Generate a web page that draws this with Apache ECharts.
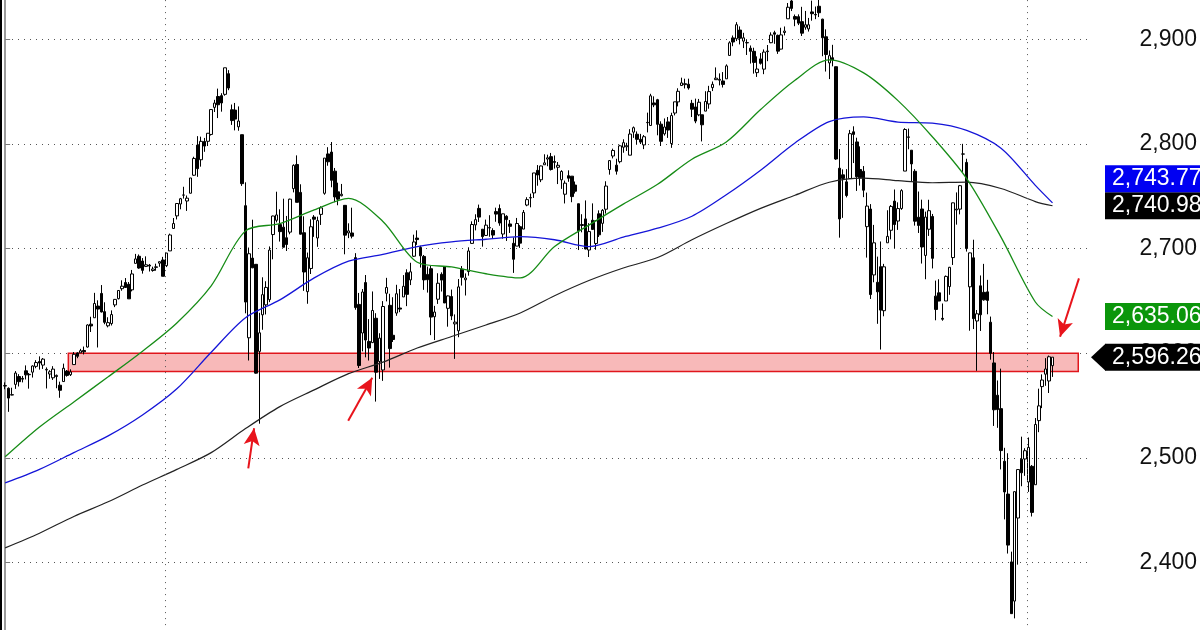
<!DOCTYPE html>
<html><head><meta charset="utf-8">
<script src="https://cdn.jsdelivr.net/npm/echarts@6/dist/echarts.min.js"></script>
<style>html,body{margin:0;padding:0;background:#fff}#c{width:1200px;height:630px}</style>
</head><body><div id="c"></div>
<script>
// Daily bars, one small array per month: [day, open, high, low, close]
const oct2017 = [[24,2568.66,2572.18,2565.58,2569.13],[25,2566.52,2567.40,2544.00,2557.15],[26,2560.08,2567.07,2559.80,2560.40],[27,2570.26,2582.98,2565.94,2581.07],[30,2577.75,2580.03,2568.25,2572.83],[31,2575.99,2578.29,2572.15,2575.26]];
const nov2017 = [[1,2583.21,2588.40,2574.92,2579.36],[2,2579.46,2581.11,2566.17,2579.85],[3,2581.93,2588.42,2576.77,2587.84],[6,2587.47,2593.38,2585.66,2591.13],[7,2592.11,2597.02,2584.35,2590.64],[8,2588.71,2595.47,2585.02,2594.38],[9,2584.00,2586.50,2566.33,2584.62],[10,2580.18,2583.81,2575.57,2582.30],[13,2576.53,2587.66,2574.48,2584.84],[14,2577.75,2579.66,2566.56,2578.87],[15,2569.45,2572.84,2557.45,2564.62],[16,2572.95,2590.09,2572.95,2585.64],[17,2582.94,2583.96,2577.62,2578.85],[20,2579.49,2584.64,2578.24,2582.14],[21,2589.17,2601.19,2589.17,2599.03],[22,2600.31,2600.94,2595.23,2597.08],[24,2600.42,2604.21,2600.42,2602.42],[27,2602.66,2606.41,2598.87,2601.42],[28,2605.94,2627.69,2605.44,2627.04],[29,2627.82,2634.89,2620.32,2626.07],[30,2633.93,2657.74,2633.93,2647.58]];
const dec2017 = [[1,2645.10,2650.62,2605.52,2642.22],[4,2657.19,2665.19,2639.03,2639.44],[5,2639.78,2648.72,2627.73,2629.57],[6,2626.24,2634.41,2624.75,2629.27],[7,2628.38,2640.99,2626.53,2636.98],[8,2646.21,2651.65,2644.10,2651.50],[11,2652.19,2660.33,2651.47,2659.99],[12,2661.73,2669.72,2659.78,2664.11],[13,2667.59,2671.88,2662.85,2662.85],[14,2665.87,2668.09,2652.01,2652.01],[15,2660.63,2679.63,2659.14,2675.81],[18,2685.92,2694.97,2685.92,2690.16],[19,2692.71,2694.44,2680.74,2681.47],[20,2688.18,2691.01,2676.11,2679.25],[21,2683.02,2692.64,2682.40,2684.57],[22,2684.22,2685.35,2678.13,2683.34],[26,2679.09,2682.74,2677.96,2680.50],[27,2682.10,2685.64,2678.91,2682.62],[28,2686.10,2687.66,2682.69,2687.54],[29,2689.15,2692.12,2673.61,2673.61]];
const jan2018 = [[2,2683.73,2695.89,2682.36,2695.81],[3,2697.85,2714.37,2697.77,2713.06],[4,2719.31,2729.29,2719.07,2723.99],[5,2731.33,2743.45,2727.92,2743.15],[8,2742.67,2748.51,2737.60,2747.71],[9,2751.15,2759.14,2747.86,2751.29],[10,2745.55,2750.80,2736.06,2748.23],[11,2752.97,2767.56,2752.78,2767.56],[12,2770.18,2787.85,2769.64,2786.24],[16,2798.96,2807.54,2768.64,2776.42],[17,2784.99,2807.04,2778.38,2802.56],[18,2802.40,2805.83,2792.56,2798.03],[19,2802.60,2810.33,2798.08,2810.30],[22,2809.16,2833.03,2808.12,2832.97],[23,2835.05,2842.24,2830.59,2839.13],[24,2845.42,2852.97,2824.81,2837.54],[25,2846.24,2848.56,2830.94,2839.25],[26,2847.48,2872.87,2846.18,2872.87],[29,2867.23,2870.62,2851.48,2853.53],[30,2832.74,2837.75,2818.27,2822.43],[31,2832.41,2839.26,2813.04,2823.81]];
const feb2018 = [[1,2816.45,2835.96,2812.70,2821.98],[2,2808.92,2808.92,2759.97,2762.13],[5,2741.06,2763.39,2638.17,2648.94],[6,2614.78,2701.04,2593.07,2695.14],[7,2690.95,2727.67,2681.33,2681.66],[8,2685.01,2685.27,2580.56,2581.00],[9,2601.78,2638.67,2532.69,2619.55],[12,2636.75,2672.61,2622.45,2656.00],[13,2646.27,2668.84,2637.08,2662.94],[14,2651.21,2702.10,2648.87,2698.63],[15,2713.46,2731.51,2689.82,2731.20],[16,2727.14,2754.42,2725.11,2732.22],[20,2722.99,2737.60,2706.76,2716.26],[21,2720.53,2747.75,2701.29,2701.33],[22,2710.42,2731.26,2697.77,2703.96],[23,2715.80,2747.76,2713.74,2747.30],[26,2757.37,2780.64,2753.78,2779.60],[27,2780.45,2789.15,2744.22,2744.28],[28,2753.78,2761.52,2713.54,2713.83]];
const mar2018 = [[1,2715.22,2730.89,2659.65,2677.67],[2,2658.89,2696.25,2647.32,2691.25],[5,2681.06,2728.09,2675.75,2720.94],[6,2730.18,2732.08,2711.26,2728.12],[7,2710.18,2730.60,2701.74,2726.80],[8,2732.75,2740.45,2722.65,2738.97],[9,2752.91,2786.57,2751.54,2786.57],[12,2790.54,2796.98,2779.26,2783.02],[13,2792.31,2801.90,2758.68,2765.31],[14,2774.06,2777.11,2744.38,2749.48],[15,2754.27,2763.03,2741.47,2747.33],[16,2750.57,2761.85,2749.97,2752.01],[19,2741.38,2741.38,2694.59,2712.92],[20,2715.05,2724.22,2710.05,2716.94],[21,2714.99,2739.14,2709.79,2711.93],[22,2691.36,2695.68,2641.59,2643.69],[23,2646.71,2657.67,2585.89,2588.26],[26,2619.35,2661.36,2601.81,2658.55],[27,2667.57,2674.78,2596.12,2612.62],[28,2611.30,2632.65,2593.06,2605.00],[29,2610.18,2659.07,2609.72,2640.87]];
const apr2018 = [[2,2633.45,2638.30,2553.80,2581.88],[3,2592.17,2619.14,2575.49,2614.45],[4,2584.04,2649.86,2573.61,2644.69],[5,2657.36,2672.08,2649.58,2662.84],[6,2645.82,2656.88,2586.27,2604.47],[9,2617.18,2653.55,2610.79,2613.16],[10,2638.41,2665.45,2635.78,2656.87],[11,2643.23,2661.43,2639.25,2642.19],[12,2653.83,2674.72,2653.83,2663.99],[13,2676.90,2680.26,2645.05,2656.30],[16,2670.10,2686.49,2665.16,2677.84],[17,2692.74,2713.34,2692.05,2706.39],[18,2710.11,2717.49,2703.63,2708.64],[19,2701.16,2702.84,2681.90,2693.13],[20,2692.56,2693.94,2660.61,2670.14],[23,2675.40,2682.86,2657.99,2670.29],[24,2680.80,2683.55,2617.32,2634.56],[25,2634.92,2645.30,2612.67,2639.40],[26,2651.65,2676.48,2647.16,2666.94],[27,2675.47,2677.35,2659.01,2669.91],[30,2682.51,2682.87,2648.04,2648.05]];
const may2018 = [[1,2642.96,2655.27,2625.41,2654.80],[2,2654.24,2660.87,2631.70,2635.67],[3,2628.08,2637.14,2594.62,2629.73],[4,2621.45,2670.93,2615.32,2663.42],[7,2680.34,2683.35,2664.70,2672.63],[8,2670.26,2676.34,2655.20,2671.92],[9,2678.12,2701.27,2674.14,2697.79],[10,2705.02,2726.11,2704.54,2723.07],[11,2722.70,2732.86,2717.45,2727.72],[14,2738.47,2742.10,2725.47,2730.13],[15,2718.59,2718.59,2701.91,2711.45],[16,2712.62,2727.76,2712.17,2722.46],[17,2719.71,2731.96,2711.36,2720.13],[18,2717.35,2719.50,2709.18,2712.97],[21,2735.39,2739.19,2725.70,2733.01],[22,2738.34,2742.24,2721.88,2724.44],[23,2713.98,2733.33,2709.54,2733.29],[24,2730.94,2731.97,2707.38,2727.76],[25,2723.60,2727.36,2714.99,2721.33],[29,2705.11,2710.67,2676.81,2689.86],[30,2702.43,2729.34,2702.43,2724.01],[31,2720.98,2722.50,2700.68,2705.27]];
const jun2018 = [[1,2718.70,2736.93,2718.70,2734.62],[4,2741.67,2749.16,2740.54,2746.87],[5,2748.46,2752.61,2739.51,2748.80],[6,2753.25,2772.39,2748.46,2772.35],[7,2774.84,2779.90,2760.16,2770.37],[8,2765.84,2779.39,2763.59,2779.03],[11,2780.18,2790.21,2780.17,2782.00],[12,2785.60,2789.80,2778.78,2786.85],[13,2787.94,2791.47,2774.65,2775.63],[14,2783.21,2789.06,2776.52,2782.49],[15,2777.78,2782.81,2761.73,2779.66],[18,2765.79,2774.99,2757.12,2773.75],[19,2752.01,2765.05,2743.19,2762.59],[20,2769.73,2774.86,2763.91,2767.32],[21,2769.28,2769.28,2744.39,2749.76],[22,2760.79,2764.17,2752.68,2754.88],[25,2742.94,2742.94,2698.67,2717.07],[26,2722.12,2732.91,2715.60,2723.06],[27,2728.45,2746.09,2699.38,2699.63],[28,2698.69,2724.34,2691.99,2716.31],[29,2727.13,2743.26,2718.03,2718.37]];
const jul2018 = [[2,2704.95,2727.26,2698.95,2726.71],[3,2733.27,2736.58,2711.16,2713.22],[5,2724.19,2737.83,2716.02,2736.61],[6,2737.68,2764.41,2733.52,2759.82],[9,2775.62,2784.65,2770.73,2784.17],[10,2788.56,2795.58,2786.24,2793.84],[11,2779.82,2785.91,2770.77,2774.02],[12,2783.14,2799.22,2781.53,2798.29],[13,2796.93,2804.53,2791.69,2801.31],[16,2797.36,2801.19,2793.39,2798.43],[17,2789.34,2814.19,2789.24,2809.55],[18,2811.35,2816.76,2805.89,2815.62],[19,2809.37,2812.05,2799.77,2804.49],[20,2804.55,2809.70,2800.01,2801.83],[23,2799.17,2808.61,2795.14,2806.98],[24,2820.68,2829.99,2811.12,2820.40],[25,2817.73,2848.03,2817.73,2846.07],[26,2839.29,2845.57,2835.26,2837.44],[27,2842.35,2843.17,2808.34,2818.82],[30,2819.00,2821.74,2798.11,2802.60],[31,2809.73,2824.46,2808.06,2816.29]];
const aug2018 = [[1,2821.17,2825.83,2805.85,2813.36],[2,2800.48,2829.91,2796.34,2827.22],[3,2829.62,2840.38,2827.37,2840.35],[6,2840.29,2853.29,2835.98,2850.40],[7,2855.92,2863.43,2855.92,2858.45],[8,2856.79,2862.44,2853.09,2857.70],[9,2857.19,2862.48,2851.98,2853.58],[10,2838.90,2842.20,2825.81,2833.28],[13,2835.46,2843.40,2819.88,2821.93],[14,2827.88,2843.11,2826.58,2839.96],[15,2827.95,2827.95,2802.49,2818.37],[16,2831.44,2850.49,2831.44,2840.69],[17,2838.32,2855.63,2833.73,2850.13],[20,2853.93,2859.76,2850.62,2857.05],[21,2861.51,2873.23,2861.32,2862.96],[22,2860.99,2867.54,2856.05,2861.82],[23,2860.29,2868.78,2854.03,2856.98],[24,2862.35,2876.16,2862.35,2874.69],[27,2884.69,2898.25,2884.69,2896.74],[28,2901.45,2903.77,2893.50,2897.52],[29,2900.62,2916.50,2898.40,2914.04],[30,2908.94,2912.46,2895.22,2901.13],[31,2898.37,2906.32,2891.73,2901.52]];
const sep2018 = [[4,2896.96,2900.18,2885.13,2896.72],[5,2891.59,2894.21,2876.92,2888.60],[6,2888.64,2892.05,2867.29,2878.05],[7,2868.26,2883.81,2864.12,2871.68],[10,2881.39,2886.93,2875.94,2877.13],[11,2871.57,2890.43,2866.78,2887.89],[12,2888.29,2894.65,2879.20,2888.92],[13,2896.85,2906.76,2896.39,2904.18],[14,2906.38,2908.30,2895.77,2904.98],[17,2903.83,2904.65,2886.16,2888.80],[18,2890.74,2911.17,2890.43,2904.31],[19,2906.60,2912.36,2903.82,2907.95],[20,2919.73,2934.80,2919.73,2930.75],[21,2936.76,2940.91,2927.11,2929.67],[24,2921.83,2923.79,2912.63,2919.37],[25,2921.75,2923.95,2913.70,2915.56],[26,2916.98,2931.15,2903.28,2905.97],[27,2911.65,2927.22,2909.27,2914.00],[28,2910.03,2920.53,2907.50,2913.98]];
const oct2018 = [[1,2926.29,2937.06,2917.91,2924.59],[2,2923.80,2931.42,2919.37,2923.43],[3,2931.69,2939.86,2921.36,2925.51],[4,2919.35,2919.78,2883.92,2901.61],[5,2902.54,2909.64,2869.29,2885.57],[8,2877.53,2889.45,2862.08,2884.43],[9,2882.51,2894.83,2874.27,2880.34],[10,2873.90,2874.02,2784.86,2785.68],[11,2776.87,2795.14,2710.51,2728.37],[12,2770.54,2775.77,2729.44,2767.13],[15,2763.83,2775.99,2749.03,2750.79],[16,2767.05,2813.46,2766.91,2809.92],[17,2811.67,2816.94,2781.81,2809.21],[18,2802.00,2806.04,2755.18,2768.78],[19,2775.66,2797.77,2760.27,2767.78],[22,2773.94,2778.94,2749.22,2755.88],[23,2721.03,2753.59,2691.43,2740.69],[24,2737.87,2742.59,2651.89,2656.10],[25,2674.88,2722.70,2667.84,2705.57],[26,2667.86,2692.38,2628.16,2658.69],[29,2682.65,2706.85,2603.54,2641.25],[30,2640.68,2685.43,2635.34,2682.63],[31,2705.60,2736.69,2705.60,2711.74]];
const nov2018 = [[1,2717.58,2741.67,2708.85,2740.37],[2,2745.45,2756.55,2700.44,2723.06],[5,2726.37,2744.27,2717.94,2738.31],[6,2738.40,2756.82,2737.08,2755.45],[7,2774.13,2815.15,2774.13,2813.89],[8,2806.38,2814.75,2794.99,2806.83],[9,2794.10,2794.10,2764.24,2781.01],[12,2773.93,2775.99,2722.00,2726.22],[13,2730.05,2754.60,2714.98,2722.18],[14,2737.90,2746.80,2685.75,2701.58],[15,2693.52,2735.38,2670.75,2730.20],[16,2718.54,2746.75,2712.16,2736.27],[19,2730.74,2733.16,2681.09,2690.73],[20,2654.60,2669.44,2631.52,2641.89],[21,2657.74,2670.73,2649.82,2649.93],[23,2633.36,2647.55,2631.09,2632.56],[26,2649.97,2674.35,2649.97,2673.45],[27,2663.75,2682.53,2655.89,2682.17],[28,2691.45,2744.00,2684.38,2743.79],[29,2736.97,2753.75,2722.94,2737.80],[30,2737.76,2760.88,2732.76,2760.17]];
const dec2018 = [[3,2790.50,2800.18,2773.38,2790.37],[4,2782.43,2785.93,2697.18,2700.06],[6,2663.51,2696.15,2621.53,2695.95],[7,2691.26,2708.54,2623.14,2633.08],[10,2630.86,2641.34,2583.23,2637.72],[11,2664.44,2674.35,2621.30,2636.78],[12,2658.23,2685.44,2650.26,2651.07],[13,2658.70,2670.19,2637.27,2650.54],[14,2629.68,2635.07,2593.84,2599.95],[17,2590.75,2601.13,2530.54,2545.94],[18,2559.90,2573.99,2528.71,2546.16],[19,2547.05,2585.29,2488.96,2506.96],[20,2496.77,2509.63,2441.18,2467.42],[21,2465.38,2504.41,2408.55,2416.62],[24,2400.56,2410.34,2351.10,2351.10],[26,2363.12,2467.76,2346.58,2467.70],[27,2442.50,2489.10,2397.94,2488.83],[28,2498.77,2520.27,2472.89,2485.74],[31,2498.94,2509.24,2482.82,2506.85]];
const jan2019 = [[2,2476.96,2519.49,2467.47,2510.03],[3,2491.92,2493.14,2443.96,2447.89],[4,2474.33,2538.07,2474.33,2531.94],[7,2535.61,2566.16,2524.56,2549.69],[8,2568.11,2579.82,2547.56,2574.41],[9,2580.00,2595.32,2568.89,2584.96],[10,2573.51,2597.82,2562.02,2596.64],[11,2588.11,2596.27,2577.40,2596.26]];

const maBarIdx = [0,10,20,30,40,50,60,70,80,90,100,110,120,130,140,150,160,170,180,190,200,210,220,230,240,250,260,270,280,290,300,305];
const ma50  = [2501,2529.5,2553.5,2577.5,2602,2629,2664.5,2717,2724,2737,2748,2726,2687,2682.5,2676,2672,2702,2722.5,2742.5,2761.5,2785.5,2802,2833,2861,2880.5,2868,2841.5,2807,2767,2711,2649,2635.06];
const ma100 = [2476,2489,2505,2521,2541,2566,2601,2634,2651,2672,2688,2694.5,2702,2706.5,2709,2711.4,2708.5,2702,2711,2719.5,2731,2751.5,2775,2801,2821.5,2826,2821,2820,2813,2796,2760.5,2743.77];
const ma200 = [2414,2428,2444,2458,2474,2489,2505,2528,2549,2565,2580.5,2591.5,2605,2616,2627,2638.5,2655,2669.5,2681.5,2691.5,2708.5,2724,2738.5,2751,2763.5,2767.5,2765,2763,2763.5,2757.5,2745,2740.98];

// Y ticks
const yTicks = [2300, 3000, 100]; // min, max, step

// Annotation: support zone (bar positions, price bounds) and arrows [tail, tip] in [bar, price]
const zoneBars = [18.4, 312.5];
const zonePrices = [2600, 2582.5];
const arrows = [
  [[70.8, 2490.0], [72.5, 2528.3]],
  [[99.9, 2535.5], [106.9, 2576.6]],
  [[312.7, 2671.6], [307.2, 2615.8]]
];

const months = [['2017-10',oct2017],['2017-11',nov2017],['2017-12',dec2017],['2018-01',jan2018],['2018-02',feb2018],['2018-03',mar2018],['2018-04',apr2018],['2018-05',may2018],['2018-06',jun2018],['2018-07',jul2018],['2018-08',aug2018],['2018-09',sep2018],['2018-10',oct2018],['2018-11',nov2018],['2018-12',dec2018],['2019-01',jan2019]];
const dates = [], candles = [];
months.forEach(([ym, rows]) => rows.forEach(([d,o,h,l,c]) => {
  const ds = ym + '-' + String(d).padStart(2,'0');
  dates.push(ds); candles.push([ds, o, c, l, h]);
}));
const LEAD = 1, TRAIL = 11;
const categories = [...Array.from({length:LEAD},(_,i)=>'lead'+i), ...dates, ...Array.from({length:TRAIL},(_,i)=>'trail'+i)];
const yearStarts = dates.map((d,i)=> i>0 && d.slice(0,4)!==dates[i-1].slice(0,4) ? i : -1).filter(i=>i>=0);
const maPairs = arr => maBarIdx.map((b,i)=>[b, arr[i]]);

const FONT = "'Liberation Sans', Arial, sans-serif";
const chart = echarts.init(document.getElementById('c'), null, {renderer:'canvas'});
const fmt = v => v.toLocaleString('en-US');
const dot = {color:'#555', type:[1,5], width:1};

chart.setOption({
  animation:false,
  backgroundColor:'#fff',
  grid:{left:0, right:108, top:-65.2, bottom:-37.1, containLabel:false, outerBoundsMode:'none'},
  xAxis:[
    {type:'category', data:categories, boundaryGap:true, show:false},
    {type:'value', min:-LEAD-0.5, max:dates.length+TRAIL-0.5, show:false}
  ],
  yAxis:[
    {type:'value', position:'right', min:yTicks[0], max:yTicks[1], interval:yTicks[2],
     axisLine:{show:true, lineStyle:{color:'#7a7a7a', width:1.5}},
     axisTick:{show:true, length:5, lineStyle:{color:'#7a7a7a'}},
     axisLabel:{align:'right', margin:105, fontSize:23, color:'#111', fontFamily:FONT, formatter:fmt},
     splitLine:{show:true, lineStyle:dot}},
    {type:'value', position:'left', min:yTicks[0], max:yTicks[1],
     axisLine:{show:true, lineStyle:{color:'#000', width:3}},
     axisTick:{show:false}, axisLabel:{show:false}, splitLine:{show:false}}
  ],
  series:[
    {type:'line', xAxisIndex:1, yAxisIndex:0, data:[], z:1, silent:true,
     markLine:{silent:true, symbol:['none','none'], label:{show:false}, lineStyle:dot,
       data: yearStarts.map(i=>({xAxis:i-0.5}))}},
    {type:'candlestick', xAxisIndex:0, yAxisIndex:0, barWidth:3, z:2,
     encode:{x:0, y:[1,2,3,4]},
     itemStyle:{color:'#fff', color0:'#000', borderColor:'#000', borderColor0:'#000', borderWidth:1},
     data:candles},
    {type:'line', xAxisIndex:1, yAxisIndex:0, data:maPairs(ma200), smooth:0.3, showSymbol:false, z:4, silent:true,
     lineStyle:{color:'#222', width:1.2}},
    {type:'line', xAxisIndex:1, yAxisIndex:0, data:maPairs(ma100), smooth:0.3, showSymbol:false, z:4, silent:true,
     lineStyle:{color:'#1414d8', width:1.3}},
    {type:'line', xAxisIndex:1, yAxisIndex:0, data:maPairs(ma50), smooth:0.3, showSymbol:false, z:4, silent:true,
     lineStyle:{color:'#168c16', width:1.3}},
    {type:'line', xAxisIndex:1, yAxisIndex:0, data:[], z:6, silent:true,
     markArea:{silent:true, itemStyle:{color:'rgba(235,60,60,0.36)', borderColor:'#e0161c', borderWidth:1.5},
       data:[[{xAxis:zoneBars[0], yAxis:zonePrices[0]}, {xAxis:zoneBars[1], yAxis:zonePrices[1]}]]},
     markLine:{silent:true, symbol:['none','arrow'], symbolSize:[12,17], label:{show:false},
       lineStyle:{color:'#e8141c', width:2, type:'solid'},
       data: arrows.map(([a,b])=>[{coord:a},{coord:b}])}}
  ]
});

// value tags at the right axis
const lastClose = candles[candles.length-1][2];
const tags = [
  {v:lastClose, bg:'#000', arrow:true},
  {v:ma50[ma50.length-1], bg:'#0b960b'},
  {v:ma200[ma200.length-1], bg:'#000'},
  {v:ma100[ma100.length-1], bg:'#0000f2'}
];
const H = 27, placed = [], g = [];
tags.forEach(t => {
  let y = chart.convertToPixel({yAxisIndex:0}, t.v);
  placed.forEach(p => { if (Math.abs(y - p) < H) y = (y <= p) ? p - H : p + H; });
  placed.push(y);
  g.push({type:'rect', shape:{x:1105, y:y-H/2, width:100, height:H}, style:{fill:t.bg}, z:100});
  if (t.arrow) g.push({type:'polygon', shape:{points:[[1091,y],[1105.5,y-H/2],[1105.5,y+H/2]]}, style:{fill:t.bg}, z:100});
  g.push({type:'text', x:1112, y:y, style:{text:t.v.toLocaleString('en-US',{minimumFractionDigits:2}), fill:'#fff', font:'23px '+FONT, verticalAlign:'middle', align:'left'}, z:101});
});
chart.setOption({graphic:g});
</script>
</body></html>
